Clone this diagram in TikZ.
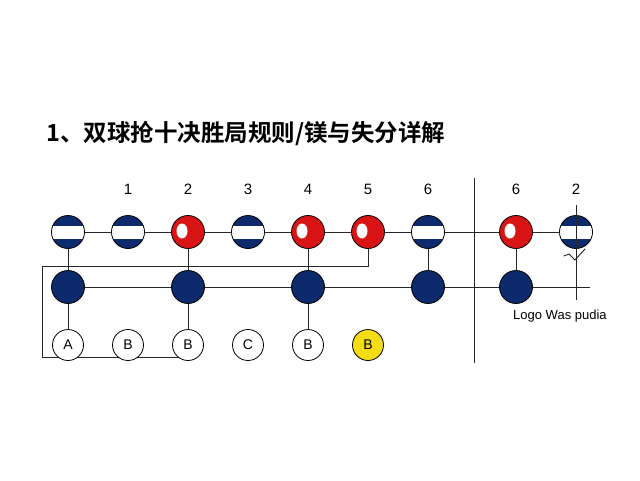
\documentclass[tikz,border=0pt]{standalone}
\usepackage{fontspec}
\setmainfont{Liberation Sans}
\newfontfamily\cjkfont[BoldFont={Noto Sans CJK SC Bold}]{Noto Sans CJK SC}
\usetikzlibrary{calc}
\definecolor{navyb}{HTML}{0C2A6C}
\definecolor{redb}{HTML}{D81414}
\definecolor{yellowb}{HTML}{F4DC14}
\tikzset{
  ball/.style={circle, draw=black, line width=0.8pt, minimum size=33pt, inner sep=0pt},
  stripeball/.style={ball, fill=navyb, path picture={\fill[white] ([yshift=-6.5pt]path picture bounding box.west) rectangle ([yshift=6.5pt]path picture bounding box.east);}},
  redball/.style={ball, fill=redb, path picture={\fill[white] ([xshift=-6pt,yshift=1pt]path picture bounding box.center) ellipse (5.5pt and 7.5pt);}},
  navyball/.style={ball, fill=navyb},
  letterball/.style={circle, draw=black, line width=0.8pt, fill=white, minimum size=31pt, inner sep=0pt, font=\fontsize{14}{14}\selectfont},
  numlabel/.style={font=\fontsize{15}{15}\selectfont},
  conn/.style={draw=black!85, line width=0.9pt}
}
\begin{document}
\begin{tikzpicture}[x=1pt,y=-1pt]
\path[use as bounding box, fill=white] (0,0) rectangle (640,480);
% title
\node[anchor=west, inner sep=0pt, font=\cjkfont\bfseries\fontsize{23.5}{23.5}\selectfont] (title) at (46,133) {1、双球抢十决胜局规则/镁与失分详解};
% number labels
\foreach \n/\x/\t in {l1/128/1, l2/188/2, l3/248/3, l4/308/4, l5/368/5, l6/428/6, l7/516/6, l8/576/2}
  \node[numlabel] (\n) at (\x,189) {\t};
% coordinates for free ends
\coordinate (loopA) at (42,266);
\coordinate (loopB) at (42,357);
\coordinate (loopC) at (180,357);
\coordinate (divT) at (474,178);
\coordinate (divB) at (474,363);
\coordinate (mend) at (590,287);
\coordinate (vT) at (576,205);
\coordinate (vB) at (576,300);
\coordinate (tk0) at (564,256);
\coordinate (tk1) at (569,254);
\coordinate (tk2) at (575,260);
\coordinate (tk3) at (585,249);
% loop line (behind)
\draw[conn] (368,249) |- (loopA) -- (loopB) -- (loopC);
% divider
\draw[conn] (divT) -- (divB);
% top row
\node[stripeball] (t1) at (68,232) {};
\node[stripeball] (t2) at (128,232) {};
\node[redball] (t3) at (188,232) {};
\node[stripeball] (t4) at (248,232) {};
\node[redball] (t5) at (308,232) {};
\node[redball] (t6) at (368,232) {};
\node[stripeball] (t7) at (428,232) {};
\node[redball] (t8) at (516,232) {};
\node[stripeball] (t9) at (576,232) {};
% middle row
\node[navyball] (m1) at (68,287) {};
\node[navyball] (m2) at (188,287) {};
\node[navyball] (m3) at (308,287) {};
\node[navyball] (m4) at (428,287) {};
\node[navyball] (m5) at (516,287) {};
% bottom row
\node[letterball] (b1) at (68,345) {A};
\node[letterball] (b2) at (128,345) {B};
\node[letterball] (b3) at (188,345) {B};
\node[letterball] (b4) at (248,345) {C};
\node[letterball] (b5) at (308,345) {B};
\node[letterball, fill=yellowb] (b6) at (368,345) {B};
% top connectors
\draw[conn] (t1) -- (t2) (t2) -- (t3) (t3) -- (t4) (t4) -- (t5) (t5) -- (t6) (t6) -- (t7) (t7) -- (t8) (t8) -- (t9);
% middle connectors
\draw[conn] (m1) -- (m2) (m2) -- (m3) (m3) -- (m4) (m4) -- (m5) (m5) -- (mend);
% verticals
\draw[conn] (t1) -- (m1) (m1) -- (b1);
\draw[conn] (t3) -- (m2) (m2) -- (b3);
\draw[conn] (t5) -- (m3) (m3) -- (b5);
\draw[conn] (t7) -- (m4);
\draw[conn] (t8) -- (m5);
\draw[conn] (vT) -- (vB);
\draw[conn, line cap=round] (tk0) -- (tk1) -- (tk2) -- (tk3);
% logo text
\node[anchor=west, inner sep=0pt, font=\fontsize{13}{13}\selectfont] (logo) at (513,316) {Logo Was pudia};
\end{tikzpicture}
\end{document}
